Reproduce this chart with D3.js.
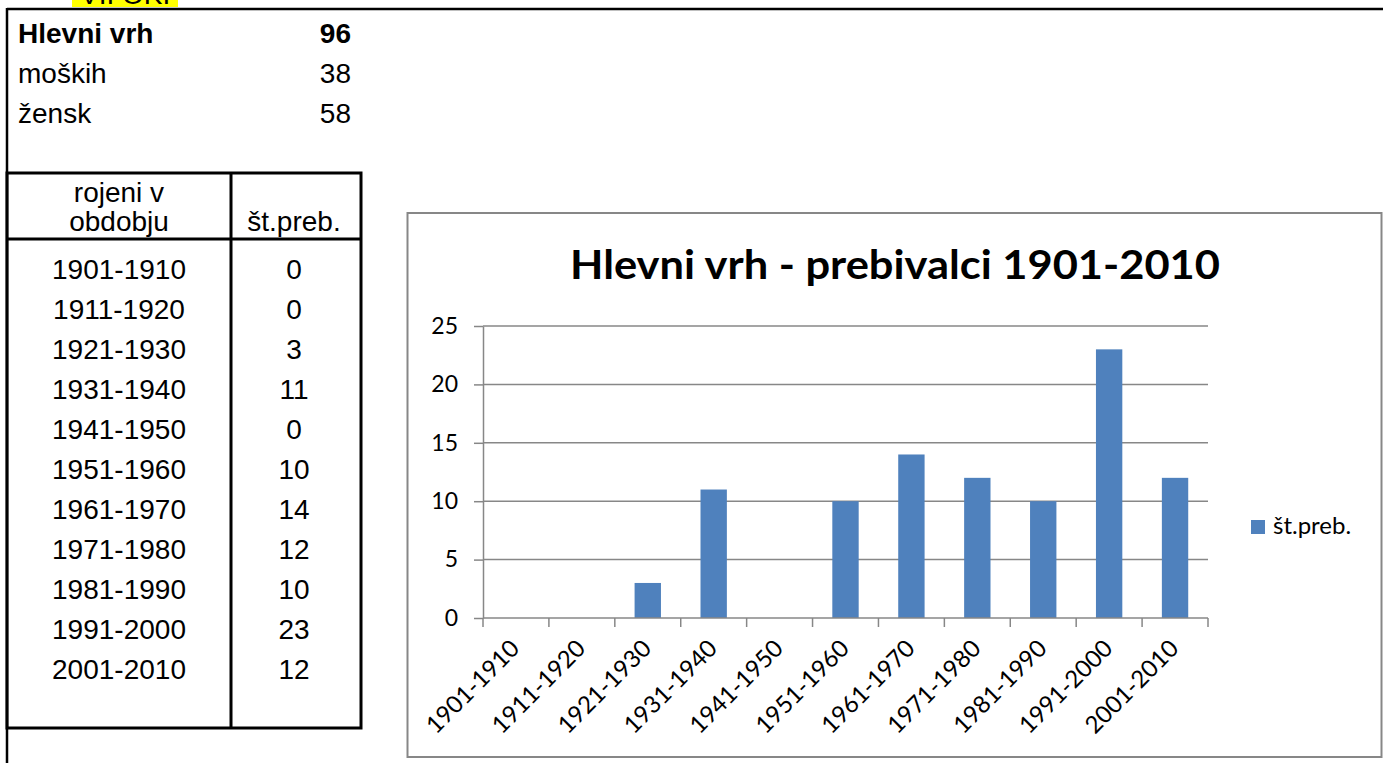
<!DOCTYPE html>
<html>
<head>
<meta charset="utf-8">
<script src="https://cdn.jsdelivr.net/npm/d3@7"></script>
<style>
  html, body { margin: 0; padding: 0; background: #fff; overflow: hidden; }
</style>
</head>
<body>
<svg id="sheet" width="1383" height="763"></svg>
<script>
// Data
const summaryLabels = ['Hlevni vrh', 'moških', 'žensk'];
const summaryValues = [96, 38, 58];
const periods = ['1901-1910', '1911-1920', '1921-1930', '1931-1940', '1941-1950',
  '1951-1960', '1961-1970', '1971-1980', '1981-1990', '1991-2000', '2001-2010'];
const residents = [0, 0, 3, 11, 0, 10, 14, 12, 10, 23, 12];
const yTicks = [0, 5, 10, 15, 20, 25];
const seriesName = 'št.preb.';
const chartTitle = 'Hlevni vrh - prebivalci 1901-2010';

const svg = d3.select('#sheet');
const arial = "'Liberation Sans', Arial, sans-serif";
const calibri = "Lato, 'Open Sans', sans-serif";

// Yellow cell peeking in at the top (mostly cut off)
svg.append('rect').attr('x', 72).attr('y', 0).attr('width', 106).attr('height', 7).attr('fill', '#ffff00');
svg.append('text').attr('x', 80).attr('y', 4)
  .style('font-family', arial).style('font-size', '28px')
  .text('VII OKI');

// Outer frame (top and left cell borders)
svg.append('line').attr('x1', 7).attr('x2', 1383).attr('y1', 9).attr('y2', 9)
  .attr('stroke', '#000').attr('stroke-width', 2.5);
svg.append('line').attr('x1', 7).attr('x2', 7).attr('y1', 8).attr('y2', 763)
  .attr('stroke', '#000').attr('stroke-width', 2.5);

// Summary block
const sumRow = d3.scaleLinear().domain([0, 1]).range([43, 83]);
svg.selectAll('.sum-label').data(summaryLabels).enter().append('text')
  .attr('x', 18).attr('y', (d, i) => sumRow(i))
  .style('font-family', arial).style('font-size', '28px')
  .style('font-weight', (d, i) => i === 0 ? 'bold' : 'normal')
  .text(d => d);
svg.selectAll('.sum-value').data(summaryValues).enter().append('text')
  .attr('x', 351).attr('y', (d, i) => sumRow(i))
  .attr('text-anchor', 'end')
  .style('font-family', arial).style('font-size', '28px')
  .style('font-weight', (d, i) => i === 0 ? 'bold' : 'normal')
  .text(d => d);

// Table
const tbl = { left: 7, mid: 231, right: 361, top: 173, head: 239, bottom: 728 };
const tg = svg.append('g').attr('stroke', '#000').attr('stroke-width', 3);
tg.append('rect').attr('x', tbl.left).attr('y', tbl.top)
  .attr('width', tbl.right - tbl.left).attr('height', tbl.bottom - tbl.top).attr('fill', 'none');
tg.append('line').attr('x1', tbl.mid).attr('x2', tbl.mid).attr('y1', tbl.top).attr('y2', tbl.bottom);
tg.append('line').attr('x1', tbl.left).attr('x2', tbl.right).attr('y1', tbl.head).attr('y2', tbl.head);

const col1 = (tbl.left + tbl.mid) / 2;
const col2 = (tbl.mid + tbl.right) / 2 - 2;
const head = svg.append('g').style('font-family', arial).style('font-size', '28px').attr('text-anchor', 'middle');
head.append('text').attr('x', col1).attr('y', 202).text('rojeni v');
head.append('text').attr('x', col1).attr('y', 231).text('obdobju');
head.append('text').attr('x', col2).attr('y', 231).text(seriesName);

const tRow = d3.scaleLinear().domain([0, 1]).range([279, 319]);
svg.selectAll('.t-period').data(periods).enter().append('text')
  .attr('x', col1).attr('y', (d, i) => tRow(i)).attr('text-anchor', 'middle')
  .style('font-family', arial).style('font-size', '28px').text(d => d);
svg.selectAll('.t-value').data(residents).enter().append('text')
  .attr('x', col2).attr('y', (d, i) => tRow(i)).attr('text-anchor', 'middle')
  .style('font-family', arial).style('font-size', '28px').text(d => d);

// Chart
const box = { x: 407.5, y: 213, w: 974, h: 544 };
const plot = { left: 483, right: 1208, top: 326, bottom: 618 };
const grey = '#878787';

svg.append('rect').attr('x', box.x).attr('y', box.y).attr('width', box.w).attr('height', box.h)
  .attr('fill', '#fff').attr('stroke', grey).attr('stroke-width', 2);

svg.append('text').attr('x', 895).attr('y', 279).attr('text-anchor', 'middle')
  .attr('textLength', 650).attr('lengthAdjust', 'spacingAndGlyphs')
  .style('font-family', calibri).style('font-size', '40px').style('font-weight', 'bold')
  .text(chartTitle);

const x = d3.scaleBand().domain(periods).range([plot.left, plot.right])
  .paddingInner(0.6).paddingOuter(0.3);
const y = d3.scaleLinear().domain([0, 25]).range([plot.bottom, plot.top]);

// gridlines
svg.append('g').selectAll('line').data(yTicks.filter(t => t > 0)).enter().append('line')
  .attr('x1', plot.left).attr('x2', plot.right)
  .attr('y1', d => y(d)).attr('y2', d => y(d))
  .attr('stroke', grey).attr('stroke-width', 1.5);

// y axis
const yAxis = svg.append('g').attr('transform', `translate(${plot.left},0)`)
  .call(d3.axisLeft(y).tickValues(yTicks).tickSize(9).tickPadding(16).tickSizeOuter(0));
yAxis.select('.domain').attr('stroke', grey).attr('stroke-width', 1.5);
yAxis.selectAll('.tick line').attr('stroke', grey).attr('stroke-width', 1.5);
yAxis.selectAll('.tick text').style('font-family', calibri).style('font-size', '23px').attr('fill', '#000');

// bars
svg.append('g').selectAll('rect').data(residents).enter().append('rect')
  .attr('x', (d, i) => x(periods[i]))
  .attr('y', d => y(d))
  .attr('width', x.bandwidth())
  .attr('height', d => y(0) - y(d))
  .attr('fill', '#4f81bd');

// x axis with ticks between categories
const xg = svg.append('g').attr('transform', `translate(0,${plot.bottom})`);
xg.append('line').attr('x1', plot.left).attr('x2', plot.right).attr('stroke', grey).attr('stroke-width', 1.5);
const bounds = periods.map(p => x(p) - x.step() * 0.3).concat([plot.right]);
xg.selectAll('.xt').data(bounds).enter().append('line')
  .attr('x1', d => d).attr('x2', d => d).attr('y1', 0).attr('y2', 9)
  .attr('stroke', grey).attr('stroke-width', 1.5);
xg.selectAll('.xl').data(periods).enter().append('text')
  .attr('transform', d => `translate(${x(d) + x.bandwidth() / 2 + 5},${32}) rotate(-45)`)
  .attr('text-anchor', 'end')
  .style('font-family', calibri).style('font-size', '24px')
  .text(d => d);

// legend
const lg = svg.append('g').attr('transform', 'translate(1251,520)');
lg.append('rect').attr('width', 14).attr('height', 14).attr('fill', '#4f81bd');
lg.append('text').attr('x', 22).attr('y', 14)
  .style('font-family', calibri).style('font-size', '24px').text(seriesName);
</script>
</body>
</html>
